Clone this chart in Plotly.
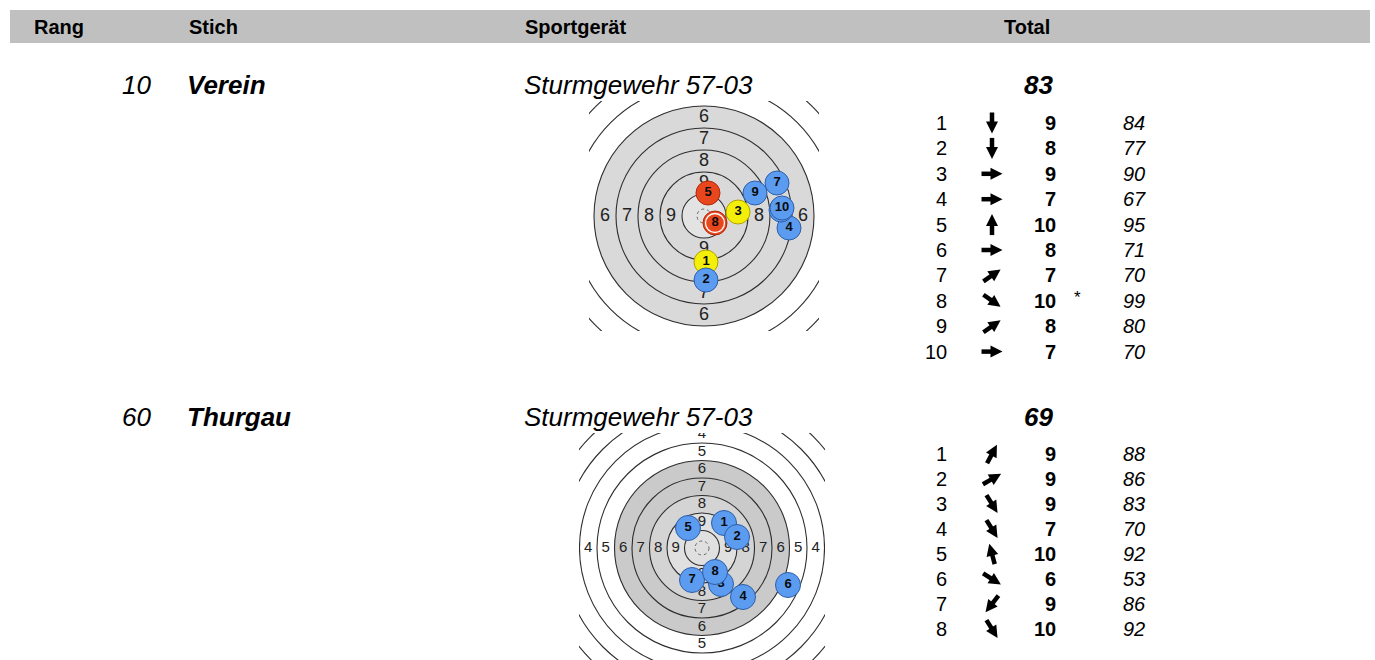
import numpy as np
import plotly.graph_objects as go

W, H = 1375, 660
FONT = "Liberation Sans, Arial, sans-serif"

# ---------------- data ----------------
header_labels = ["Rang", "Stich", "Sportgerät", "Total"]
ranks = ["10", "60"]
stiche = ["Verein", "Thurgau"]
geraete = ["Sturmgewehr 57-03", "Sturmgewehr 57-03"]
totals = ["83", "69"]

t1_scores = [9, 8, 9, 7, 10, 8, 7, 10, 8, 7]
t1_values = [84, 77, 90, 67, 95, 71, 70, 99, 80, 70]
t1_marks = ["", "", "", "", "", "", "", "*", "", ""]
t1_arrow_deg = [270, 270, 0, 0, 90, 0, 35, -35, 35, 0]
t1_shot_x = [2, 2, 34, 85, 4, 77, 73, 11, 51, 78]
t1_shot_y = [-46, -64, 4, -12, 23, 6, 33, -7, 23, 8]
t1_shot_kind = ["yellow", "blue", "yellow", "blue", "red", "blue", "blue", "red", "blue", "blue"]

t2_scores = [9, 9, 9, 7, 10, 6, 9, 10]
t2_values = [88, 86, 83, 70, 92, 53, 86, 92]
t2_marks = ["", "", "", "", "", "", "", ""]
t2_arrow_deg = [62, 30, -58, -58, 105, -32, 232, -58]
t2_shot_x = [22, 35, 19, 41, -14, 86, -10, 13]
t2_shot_y = [25, 11, -36, -49, 20, -37, -32, -24]
t2_shot_kind = ["blue"] * 8

# target geometry (ring value -> outer radius, in target units)
t1_ring_values = [10, 9, 8, 7, 6, 5, 4]
t1_ring_radii = [22, 44, 66, 88, 110, 132, 154]
t2_ring_values = [10, 9, 8, 7, 6, 5, 4, 3, 2]
t2_ring_radii = [17.5, 35, 52.5, 70, 87.5, 105, 122.5, 140, 157.5]

blocks = [
    dict(rank=ranks[0], stich=stiche[0], geraet=geraete[0], total=totals[0],
         scores=t1_scores, values=t1_values, marks=t1_marks, arrows=t1_arrow_deg,
         sx=t1_shot_x, sy=t1_shot_y, kind=t1_shot_kind,
         ring_v=t1_ring_values, ring_r=t1_ring_radii, label_v=[9, 8, 7, 6],
         fills=[(110, "#d9d9d9"), (22, "#e3e3e3")],
         label_size=18, shot_size=24, title_y=85, list_y0=123, list_dy=25.4,
         box=(589, 819, 101, 331), center=(704, 216), xa="x2", ya="y2"),
    dict(rank=ranks[1], stich=stiche[1], geraet=geraete[1], total=totals[1],
         scores=t2_scores, values=t2_values, marks=t2_marks, arrows=t2_arrow_deg,
         sx=t2_shot_x, sy=t2_shot_y, kind=t2_shot_kind,
         ring_v=t2_ring_values, ring_r=t2_ring_radii, label_v=[9, 8, 7, 6, 5, 4],
         fills=[(87.5, "#cacaca"), (52.5, "#d4d4d4"), (35, "#e0e0e0")],
         label_size=15, shot_size=25, title_y=417, list_y0=454, list_dy=25.0,
         box=(579, 825, 433, 660), center=(702, 548), xa="x3", ya="y3"),
]

kind_fill = {"blue": "#5b9cf0", "red": "#e8461c", "yellow": "#f3ef0a"}
kind_line = {"blue": "#2f5ea8", "red": "#b02a0a", "yellow": "#b0a200"}

fig = go.Figure()
shapes = []
anns = []


def txt(x, y, s, size, xanchor="left", bold=False, italic=False, color="black"):
    t = s
    if bold:
        t = f"<b>{t}</b>"
    if italic:
        t = f"<i>{t}</i>"
    anns.append(dict(x=x, y=y, xref="x", yref="y", text=t, showarrow=False,
                     xanchor=xanchor, yanchor="middle", borderpad=0,
                     font=dict(family=FONT, size=size, color=color)))


# header band
shapes.append(dict(type="rect", xref="x", yref="y", x0=10, x1=1370, y0=10, y1=43,
                   fillcolor="#c0c0c0", line=dict(width=0), layer="below"))
header_x = [33, 188, 524, 1003]
for hx, hl in zip(header_x, header_labels):
    txt(hx, 27, hl, 20, bold=True)

# invisible trace to establish main axis
fig.add_trace(go.Scatter(x=[0, W], y=[0, H], mode="markers", marker=dict(opacity=0),
                         hoverinfo="skip", xaxis="x", yaxis="y"))

shaft_x, shaft_y, head_x, head_y, head_ang = [], [], [], [], []
ARROW_CX, L, HEAD = 992, 21.0, 12

for b in blocks:
    # title row
    txt(152, b["title_y"], b["rank"], 26, xanchor="right", italic=True)
    txt(186, b["title_y"], b["stich"], 26, bold=True, italic=True)
    txt(523, b["title_y"], b["geraet"], 26, italic=True)
    txt(1038, b["title_y"], b["total"], 26, xanchor="center", bold=True, italic=True)

    # shot list
    for k, (sc, val, mk, ang) in enumerate(zip(b["scores"], b["values"], b["marks"], b["arrows"])):
        yy = b["list_y0"] + k * b["list_dy"]
        txt(948, yy, str(k + 1), 20, xanchor="right")
        txt(1057, yy, str(sc), 20, xanchor="right", bold=True)
        if mk:
            txt(1077, yy - 3, mk, 17, xanchor="center")
        txt(1122, yy, str(val), 20, italic=True)
        a = np.deg2rad(ang)
        dx, dy = np.cos(a), -np.sin(a)
        tx, ty = ARROW_CX + dx * L / 2, yy + dy * L / 2
        shaft_x += [ARROW_CX - dx * L / 2, tx - dx * HEAD * 0.6, None]
        shaft_y += [yy - dy * L / 2, ty - dy * HEAD * 0.6, None]
        head_x.append(tx)
        head_y.append(ty)
        head_ang.append(90 - ang)

    xa, ya = b["xa"], b["ya"]
    x0, x1, y0, y1 = b["box"]
    cx, cy = b["center"]
    # fills
    for r, col in b["fills"]:
        shapes.append(dict(type="circle", xref=xa, yref=ya, x0=-r, x1=r, y0=-r, y1=r,
                           fillcolor=col, line=dict(width=0), layer="below"))
    # ring lines
    for v, r in zip(b["ring_v"], b["ring_r"]):
        shapes.append(dict(type="circle", xref=xa, yref=ya, x0=-r, x1=r, y0=-r, y1=r,
                           line=dict(color="#2e2e2e", width=1.1), layer="below"))
    # center dashed ring
    shapes.append(dict(type="circle", xref=xa, yref=ya, x0=-7, x1=7, y0=-7, y1=7,
                       line=dict(color="#666666", width=1, dash="dot"), layer="below"))

    # ring labels (only those fully inside the visible target picture)
    lx, ly, lt = [], [], []
    for v in b["label_v"]:
        i = b["ring_v"].index(v)
        mid = (b["ring_r"][i] + b["ring_r"][i - 1]) / 2
        for ddx, ddy in [(-1, 0), (1, 0), (0, 1), (0, -1)]:
            px, py = ddx * mid, ddy * mid
            if (cy - py) + 6 > y1:
                continue
            lx.append(px)
            ly.append(py)
            lt.append(str(v))
    fig.add_trace(go.Scatter(x=lx, y=ly, text=lt, mode="text", xaxis=xa, yaxis=ya,
                             textfont=dict(family=FONT, size=b["label_size"], color="#222222"),
                             hoverinfo="skip", cliponaxis=True))

    # shots (one trace per shot so later shots cover earlier ones completely)
    for i, (sx, sy, kd, mk) in enumerate(zip(b["sx"], b["sy"], b["kind"], b["marks"])):
        if mk:  # centre-hit shot: draw marker, thin white inner ring, then number
            fig.add_trace(go.Scatter(
                x=[sx], y=[sy], mode="markers", xaxis=xa, yaxis=ya,
                marker=dict(size=b["shot_size"], color=kind_fill[kd],
                            line=dict(width=1, color=kind_line[kd])),
                hoverinfo="skip", cliponaxis=True))
            fig.add_trace(go.Scatter(
                x=[sx], y=[sy], mode="markers+text", text=[str(i + 1)], xaxis=xa, yaxis=ya,
                textposition="middle center",
                marker=dict(symbol="circle-open", size=19, color="white",
                            line=dict(width=1.3, color="white")),
                textfont=dict(family=FONT, size=13, color="#0a0a0a", weight="bold"),
                hoverinfo="skip", cliponaxis=True))
            continue
        fig.add_trace(go.Scatter(
            x=[sx], y=[sy], text=[str(i + 1)], mode="markers+text",
            xaxis=xa, yaxis=ya, textposition="middle center",
            marker=dict(size=b["shot_size"], color=kind_fill[kd],
                        line=dict(width=1, color=kind_line[kd]), opacity=1),
            textfont=dict(family=FONT, size=13, color="#0a0a0a", weight="bold"),
            hoverinfo="skip", cliponaxis=True))

# direction arrows in the shot lists
fig.add_trace(go.Scatter(x=shaft_x, y=shaft_y, mode="lines", xaxis="x", yaxis="y",
                         line=dict(color="black", width=4.5), hoverinfo="skip"))
fig.add_trace(go.Scatter(x=head_x, y=head_y, mode="markers", xaxis="x", yaxis="y",
                         marker=dict(symbol="arrow-up", size=HEAD, color="black",
                                     angle=head_ang, line=dict(width=0)),
                         hoverinfo="skip"))

layout = dict(
    width=W, height=H, margin=dict(l=0, r=0, t=0, b=0),
    paper_bgcolor="white", plot_bgcolor="rgba(0,0,0,0)", showlegend=False,
    shapes=shapes, annotations=anns,
    xaxis=dict(domain=[0, 1], range=[0, W], visible=False, fixedrange=True),
    yaxis=dict(domain=[0, 1], range=[H, 0], visible=False, fixedrange=True),
)
for idx, b in zip([2, 3], blocks):
    x0, x1, y0, y1 = b["box"]
    cx, cy = b["center"]
    layout[f"xaxis{idx}"] = dict(domain=[x0 / W, x1 / W], range=[x0 - cx, x1 - cx],
                                 anchor=f"y{idx}", showgrid=False, zeroline=False,
                                 showticklabels=False, showline=False, ticks="", fixedrange=True)
    layout[f"yaxis{idx}"] = dict(domain=[1 - y1 / H, 1 - y0 / H], range=[cy - y1, cy - y0],
                                 anchor=f"x{idx}", showgrid=False, zeroline=False,
                                 showticklabels=False, showline=False, ticks="", fixedrange=True)
fig.update_layout(**layout)
fig.write_html("out.html", config={"displayModeBar": False},
               post_script="document.body.style.margin='0';document.body.style.overflow='hidden';")
